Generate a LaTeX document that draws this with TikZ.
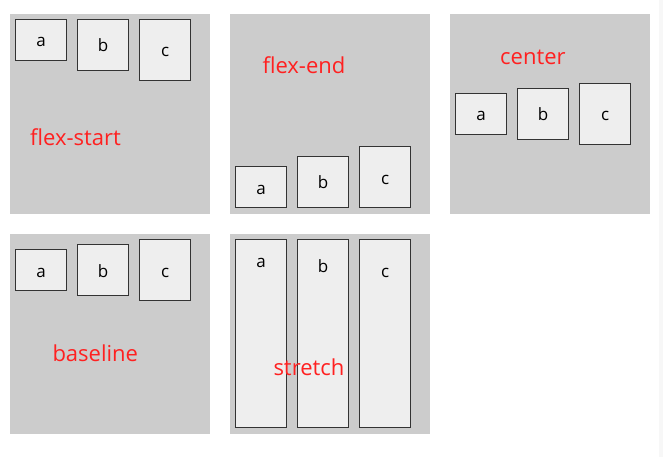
\documentclass[tikz,border=0pt]{standalone}
\usepackage{fontspec}
\setmainfont{Open Sans}
\definecolor{panelgray}{HTML}{CCCCCC}
\definecolor{boxfill}{HTML}{EEEEEE}
\definecolor{boxline}{HTML}{333333}
\definecolor{labelred}{HTML}{FF2020}
\tikzset{
	panel/.style={rectangle, fill=panelgray, draw=none, minimum size=200pt, inner sep=0pt, anchor=north west},
	box/.style={rectangle, fill=boxfill, draw=boxline, line width=1.1pt, minimum width=51pt, inner sep=0pt, anchor=north west},
	letter/.style={anchor=base, inner sep=0pt, font=\fontsize{17}{20}\selectfont},
	caption/.style={anchor=base west, inner sep=0pt, text=labelred, font=\fontsize{22}{26}\selectfont}
}
\begin{document}
\begin{tikzpicture}[x=1pt, y=-1pt]
	\useasboundingbox (0,0) rectangle (663,457);
	\fill[white] (0,0) rectangle (663,457);
	\fill[gray!6] (659,0) rectangle (663,457);
	% panels
	\node[panel](start) at (10,14){};
	\node[panel](end) at (230,14){};
	\node[panel](center) at (450,14){};
	\node[panel](base) at (10,234){};
	\node[panel](stretch) at (230,234){};
	% flex-start
	\node[box, minimum height=41pt](starta) at (15,19){};
	\node[box, minimum height=51pt](startb) at (77,19){};
	\node[box, minimum height=61pt](startc) at (139,19){};
	\node[letter] at ([yshift=-28pt]starta.north){a};
	\node[letter] at ([yshift=-33pt]startb.north){b};
	\node[letter] at ([yshift=-38pt]startc.north){c};
	\node[caption](startlabel) at (30,145.7){flex-start};
	% flex-end
	\node[box, minimum height=41pt](enda) at (235,166){};
	\node[box, minimum height=51pt](endb) at (297,156){};
	\node[box, minimum height=61pt](endc) at (359,146){};
	\node[letter] at ([yshift=-28pt]enda.north){a};
	\node[letter] at ([yshift=-33pt]endb.north){b};
	\node[letter] at ([yshift=-38pt]endc.north){c};
	\node[caption](endlabel) at (262.3,73.3){flex-end};
	% center
	\node[box, minimum height=41pt](centera) at (455,93){};
	\node[box, minimum height=51pt](centerb) at (517,88){};
	\node[box, minimum height=61pt](centerc) at (579,83){};
	\node[letter] at ([yshift=-28pt]centera.north){a};
	\node[letter] at ([yshift=-33pt]centerb.north){b};
	\node[letter] at ([yshift=-38pt]centerc.north){c};
	\node[caption](centerlabel) at (500,64.3){center};
	% baseline
	\node[box, minimum height=41pt](basea) at (15,249){};
	\node[box, minimum height=51pt](baseb) at (77,244){};
	\node[box, minimum height=61pt](basec) at (139,239){};
	\node[letter] at ([yshift=-28pt]basea.north){a};
	\node[letter] at ([yshift=-33pt]baseb.north){b};
	\node[letter] at ([yshift=-38pt]basec.north){c};
	\node[caption](baselabel) at (52.3,361.7){baseline};
	% stretch
	\node[box, minimum height=188pt](stretcha) at (235,239){};
	\node[box, minimum height=188pt](stretchb) at (297,239){};
	\node[box, minimum height=188pt](stretchc) at (359,239){};
	\node[letter] at ([yshift=-28pt]stretcha.north){a};
	\node[letter] at ([yshift=-33pt]stretchb.north){b};
	\node[letter] at ([yshift=-38pt]stretchc.north){c};
	\node[caption](stretchlabel) at (273.3,375.7){stretch};
\end{tikzpicture}
\end{document}
